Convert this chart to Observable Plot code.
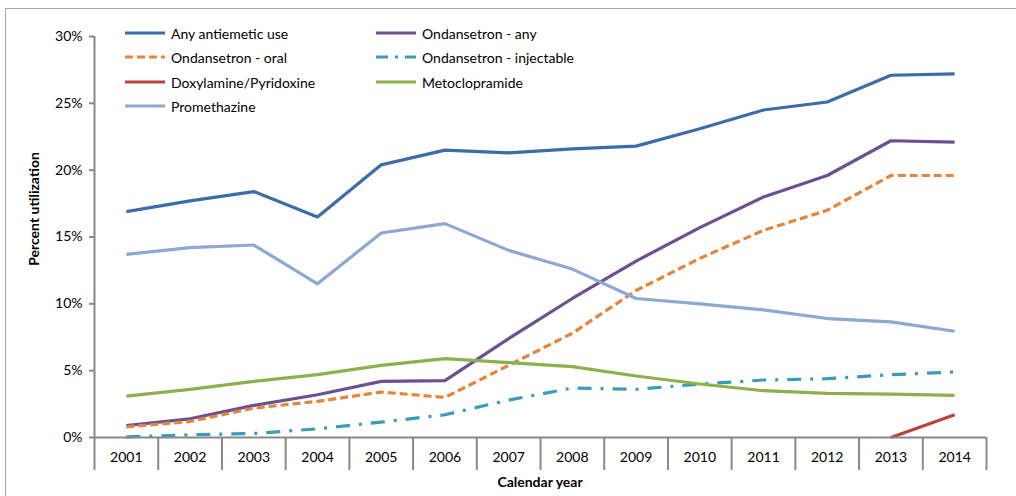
<!DOCTYPE html>
<html>
<head>
<meta charset="utf-8">
<script src="https://cdn.jsdelivr.net/npm/d3@7"></script>
<script src="https://cdn.jsdelivr.net/npm/@observablehq/plot@0.6"></script>
<style>
  html, body { margin: 0; padding: 0; background: #fff; }
  #wrap { position: relative; width: 1016px; height: 496px; overflow: hidden; font-family: Lato, "Open Sans", sans-serif; }
  #frame { position: absolute; left: 5px; top: 8px; width: 1100px; height: 600px; border-top: 1.5px solid #a6a6a6; border-left: 1.5px solid #a6a6a6; }
  .legend { position: absolute; font-size: 14px; color: #000; }
  .item { position: absolute; white-space: nowrap; display: flex; align-items: center; }
  .item svg { margin-right: 5px; }
  .ylab { position: absolute; left: 33px; top: 209px; transform: translate(-50%, -50%) rotate(-90deg); font-weight: bold; font-size: 14px; white-space: nowrap; }
  .xlab { position: absolute; left: 540px; top: 481px; transform: translate(-50%, -50%); font-weight: bold; font-size: 14px; white-space: nowrap; }
</style>
</head>
<body>
<div id="wrap">
  <div id="frame"></div>
</div>
<script>
const years = [2001, 2002, 2003, 2004, 2005, 2006, 2007, 2008, 2009, 2010, 2011, 2012, 2013, 2014];
const anyAntiemetic = [16.9, 17.7, 18.4, 16.5, 20.4, 21.5, 21.3, 21.6, 21.8, 23.1, 24.5, 25.1, 27.1, 27.2];
const ondansetronAny = [0.9, 1.4, 2.4, 3.2, 4.2, 4.25, 7.4, 10.4, 13.2, 15.7, 18.0, 19.6, 22.2, 22.1];
const ondansetronOral = [0.8, 1.2, 2.2, 2.7, 3.4, 3.0, 5.4, 7.8, 11.0, 13.4, 15.5, 17.0, 19.6, 19.6];
const ondansetronInj = [0.05, 0.2, 0.3, 0.65, 1.15, 1.7, 2.8, 3.7, 3.6, 4.0, 4.3, 4.4, 4.7, 4.9];
const doxylamine = [null, null, null, null, null, null, null, null, null, null, null, null, 0.0, 1.7];
const metoclopramide = [3.1, 3.6, 4.2, 4.7, 5.4, 5.9, 5.6, 5.3, 4.6, 4.0, 3.5, 3.3, 3.25, 3.15];
const promethazine = [13.7, 14.2, 14.4, 11.5, 15.3, 16.0, 14.0, 12.6, 10.4, 10.0, 9.55, 8.9, 8.65, 7.95];
const yTicks = [0, 5, 10, 15, 20, 25, 30];

const seriesDefs = [
  {name: "Any antiemetic use", values: anyAntiemetic, color: "#3d6caa", dash: null},
  {name: "Ondansetron - any", values: ondansetronAny, color: "#6b5192", dash: null},
  {name: "Ondansetron - oral", values: ondansetronOral, color: "#e6843a", dash: "8,4"},
  {name: "Ondansetron - injectable", values: ondansetronInj, color: "#3a9cb8", dash: "14,9,3,9"},
  {name: "Doxylamine/Pyridoxine", values: doxylamine, color: "#b8433f", dash: null},
  {name: "Metoclopramide", values: metoclopramide, color: "#8db04f", dash: null},
  {name: "Promethazine", values: promethazine, color: "#8da8d3", dash: null}
];

const dividers = d3.range(years[0] - 0.5, years[years.length - 1] + 1, 1);

const lineMarks = seriesDefs.map(s => {
  const rows = years.map((y, i) => ({year: y, value: s.values[i]})).filter(d => d.value != null);
  return Plot.line(rows, {x: "year", y: "value", stroke: s.color, strokeWidth: 3.2, strokeDasharray: s.dash, strokeLinecap: "butt", strokeLinejoin: "round"});
});

const chart = Plot.plot({
  width: 1016,
  height: 496,
  marginLeft: 94,
  marginRight: 30,
  marginTop: 36,
  marginBottom: 59,
  style: {fontFamily: "Lato, 'Open Sans', sans-serif", fontSize: "14px", color: "#000", background: "transparent"},
  x: {type: "linear", domain: [years[0] - 0.5, years[years.length - 1] + 0.5]},
  y: {domain: [0, 30]},
  marks: [
    Plot.axisX(dividers, {tickSize: 33, stroke: "#888", strokeWidth: 2, tickFormat: () => "", label: null}),
    Plot.axisX(years, {tickSize: 0, tickPadding: 15, tickFormat: d => String(d), label: null, fill: "#000"}),
    Plot.axisY(yTicks, {tickSize: 5, tickPadding: 7, stroke: "#888", strokeWidth: 2, tickFormat: d => d + "%", label: null, fill: "#000"}),
    Plot.ruleX([years[0] - 0.5], {stroke: "#888", strokeWidth: 2}),
    ...lineMarks,
    Plot.ruleY([0], {stroke: "#888", strokeWidth: 2})
  ]
});
chart.style.position = "absolute";
chart.style.left = "0px";
chart.style.top = "0px";
document.getElementById("wrap").appendChild(chart);

// Legend
const legend = document.createElement("div");
legend.className = "legend";
const positions = [
  [124, 33], [375, 33],
  [124, 57], [375, 57],
  [124, 82], [375, 82],
  [124, 106]
];
seriesDefs.forEach((s, i) => {
  const [x, y] = positions[i];
  const item = document.createElement("div");
  item.className = "item";
  item.style.left = x + "px";
  item.style.top = (y - 10) + "px";
  item.style.height = "20px";
  item.innerHTML = `<svg width="42" height="6"><line x1="1" x2="41" y1="3" y2="3" stroke="${s.color}" stroke-width="3.2" ${s.dash ? `stroke-dasharray="${s.dash === "14,9,3,9" ? "12,7,3,7" : s.dash}"` : ""}/></svg><span>${s.name}</span>`;
  legend.appendChild(item);
});
document.getElementById("wrap").appendChild(legend);

const ylab = document.createElement("div");
ylab.className = "ylab";
ylab.textContent = "Percent utilization";
document.getElementById("wrap").appendChild(ylab);
const xlab = document.createElement("div");
xlab.className = "xlab";
xlab.textContent = "Calendar year";
document.getElementById("wrap").appendChild(xlab);
</script>
</body>
</html>
